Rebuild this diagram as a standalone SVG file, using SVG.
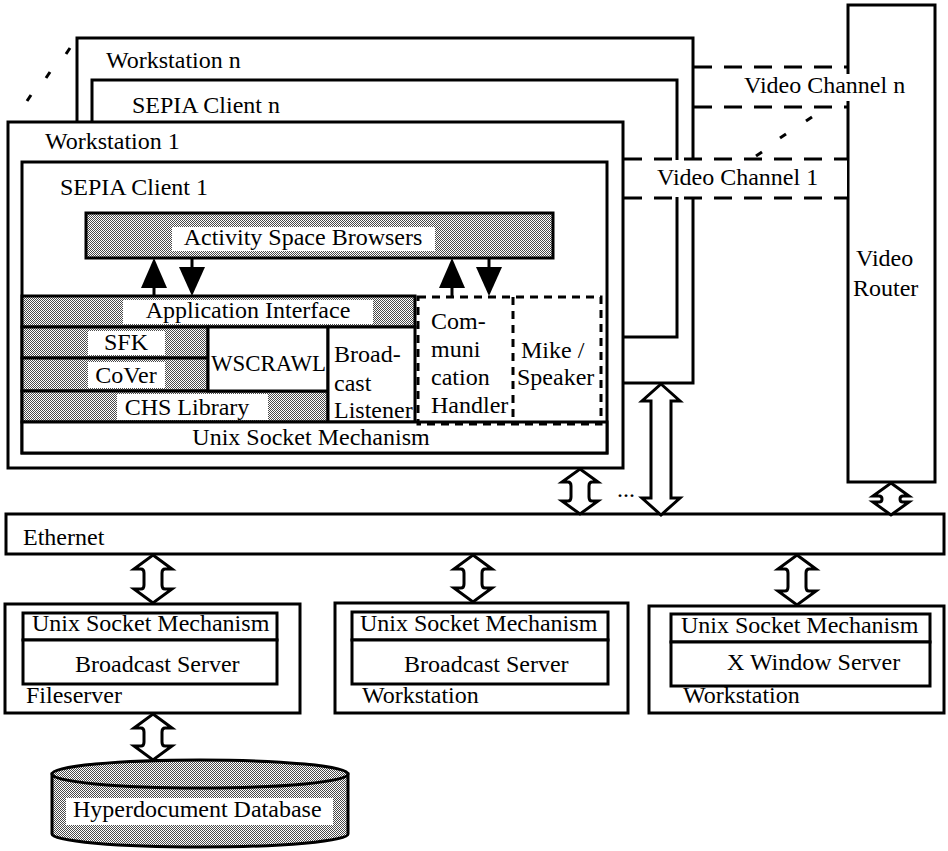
<svg xmlns="http://www.w3.org/2000/svg" width="948" height="851" viewBox="0 0 948 851">
<defs>
<pattern id="dither" width="2" height="2" patternUnits="userSpaceOnUse">
<rect width="2" height="2" fill="#fff"/>
<rect width="1" height="1" fill="#4a4a4a"/>
<rect x="1" y="1" width="1" height="1" fill="#4a4a4a"/>
</pattern>
</defs>
<style>
.box{fill:#fff;stroke:#000;stroke-width:3}
.pat{fill:url(#dither);stroke:#000;stroke-width:3}
.bg{fill:#fff;stroke:none}
.t{font-family:"Liberation Serif","Times New Roman",serif;font-size:24px;fill:#000}
.m{text-anchor:middle}
.dash{fill:none;stroke:#000;stroke-width:3;stroke-dasharray:18 12}
.sdash{fill:none;stroke:#000;stroke-width:3;stroke-dasharray:8 6}
.tick{stroke:#000;stroke-width:3;stroke-linecap:butt}
.dbl{fill:#fff;stroke:#000;stroke-width:3;stroke-linejoin:miter}
.solid{fill:#000;stroke:none}
.stem{stroke:#000;stroke-width:3}
</style>

<g id="workstation-n">
<rect class="box" x="77" y="38" width="616" height="345"/>
<text class="t" x="106" y="68">Workstation n</text>
</g>
<g id="sepia-client-n">
<rect class="box" x="92" y="80" width="585" height="257"/>
<text class="t" x="132" y="113">SEPIA Client n</text>
</g>
<g id="stack-dots">
<line class="tick" x1="70" y1="48" x2="66" y2="54"/>
<line class="tick" x1="50" y1="72" x2="46" y2="78"/>
<line class="tick" x1="31" y1="95" x2="27" y2="101"/>
</g>

<g id="video-router">
<rect class="box" x="848" y="5" width="87" height="477"/>
<text class="t" x="856" y="266">Video</text>
<text class="t" x="853" y="296">Router</text>
</g>

<g id="video-channels">
<line class="dash" x1="694" y1="67" x2="848" y2="67"/>
<line class="dash" x1="694" y1="107" x2="848" y2="107"/>
<rect class="bg" x="741" y="74" width="167" height="27"/>
<text class="t" x="744" y="93">Video Channel n</text>
<rect class="bg" x="625" y="160" width="222" height="37"/>
<line class="dash" x1="624" y1="159" x2="848" y2="159"/>
<line class="dash" x1="624" y1="198" x2="848" y2="198"/>
<text class="t" x="657" y="185">Video Channel 1</text>
<line class="tick" x1="812" y1="117" x2="806" y2="121"/>
<line class="tick" x1="786" y1="134" x2="780" y2="138"/>
<line class="tick" x1="762" y1="152" x2="756" y2="156"/>
</g>

<g id="workstation-1">
<rect class="box" x="8" y="122" width="615" height="346"/>
<text class="t" x="45" y="149">Workstation 1</text>
</g>
<g id="sepia-client-1">
<rect class="box" x="22" y="162" width="585" height="291"/>
<text class="t" x="60" y="195">SEPIA Client 1</text>
</g>

<g id="activity-space-browsers">
<rect class="pat" x="86" y="213" width="467" height="45"/>
<rect class="bg" x="172" y="227" width="263" height="24"/>
<text class="t m" x="303" y="245">Activity Space Browsers</text>
</g>

<g id="application-interface">
<rect class="pat" x="22" y="296" width="393" height="31"/>
<rect class="bg" x="123" y="300" width="250" height="24"/>
<text class="t m" x="248" y="318">Application Interface</text>
</g>
<g id="sfk">
<rect class="pat" x="22" y="327" width="186" height="31"/>
<rect class="bg" x="88" y="331" width="77" height="24"/>
<text class="t m" x="126" y="350">SFK</text>
</g>
<g id="cover">
<rect class="pat" x="22" y="358" width="186" height="33"/>
<rect class="bg" x="88" y="362" width="77" height="26"/>
<text class="t m" x="126" y="383">CoVer</text>
</g>
<g id="chs-library">
<rect class="pat" x="22" y="391" width="306" height="31"/>
<rect class="bg" x="117" y="394" width="151" height="26"/>
<text class="t m" x="187" y="415">CHS Library</text>
</g>
<g id="wscrawl">
<rect class="box" x="208" y="327" width="120" height="64"/>
<text class="t" x="211" y="371" textLength="115" lengthAdjust="spacingAndGlyphs">WSCRAWL</text>
</g>
<g id="broadcast-listener">
<rect class="box" x="328" y="327" width="87" height="95"/>
<text class="t" x="334" y="362">Broad-</text>
<text class="t" x="334" y="391">cast</text>
<text class="t" x="334" y="418">Listener</text>
</g>
<g id="unix-socket-client">
<rect class="box" x="22" y="422" width="585" height="31"/>
<text class="t m" x="311" y="445">Unix Socket Mechanism</text>
</g>
<g id="communication-handler">
<rect class="sdash" x="418" y="297" width="183" height="127"/>
<line class="sdash" x1="513" y1="297" x2="513" y2="424"/>
<text class="t" x="431" y="329">Com-</text>
<text class="t" x="431" y="357">muni</text>
<text class="t" x="431" y="385">cation</text>
<text class="t" x="431" y="413">Handler</text>
</g>
<g id="mike-speaker">
<text class="t" x="521" y="358">Mike /</text>
<text class="t" x="517" y="385">Speaker</text>
</g>

<g id="ethernet">
<rect class="box" x="6" y="514" width="938" height="40"/>
<text class="t" x="23" y="545">Ethernet</text>
</g>

<g id="fileserver">
<rect class="box" x="5" y="604" width="295" height="109"/>
<rect class="box" x="23" y="613" width="254" height="27"/>
<rect class="box" x="23" y="640" width="254" height="44"/>
<text class="t" x="32" y="631">Unix Socket Mechanism</text>
<text class="t" x="75" y="672">Broadcast Server</text>
<text class="t" x="26" y="703">Fileserver</text>
</g>
<g id="workstation-broadcast">
<rect class="box" x="335" y="603" width="293" height="110"/>
<rect class="box" x="352" y="612" width="256" height="28"/>
<rect class="box" x="352" y="640" width="256" height="44"/>
<text class="t" x="360" y="631">Unix Socket Mechanism</text>
<text class="t" x="404" y="672">Broadcast Server</text>
<text class="t" x="362" y="703">Workstation</text>
</g>
<g id="workstation-xwindow">
<rect class="box" x="649" y="606" width="295" height="107"/>
<rect class="box" x="671" y="614" width="259" height="28"/>
<rect class="box" x="671" y="642" width="259" height="44"/>
<text class="t" x="681" y="633">Unix Socket Mechanism</text>
<text class="t" x="727" y="670">X Window Server</text>
<text class="t" x="683" y="703">Workstation</text>
</g>

<g id="hyperdocument-database">
<path class="pat" d="M52,774 L52,834 A148,13 0 0 0 348,834 L348,774 Z"/>
<ellipse class="pat" cx="200" cy="774" rx="148" ry="14"/>
<rect class="bg" x="66" y="798" width="267" height="27"/>
<text class="t" x="73" y="817">Hyperdocument Database</text>
</g>

<g id="connectors">
<line class="stem" x1="154" y1="286" x2="154" y2="296"/>
<polygon class="solid" points="154,258 167,288 141,288"/>
<line class="stem" x1="192" y1="258" x2="192" y2="268"/>
<polygon class="solid" points="179,267 205,267 192,296"/>
<line class="stem" x1="452" y1="286" x2="452" y2="297"/>
<polygon class="solid" points="452,258 465,288 439,288"/>
<line class="stem" x1="489" y1="258" x2="489" y2="268"/>
<polygon class="solid" points="476,267 502,267 489,296"/>

<path class="dbl" d="M580,469 L598,482 L592,482 Q589,482 589,486 L589,497 Q589,501 592,501 L598,501 L580,514 L562,501 L568,501 Q571,501 571,497 L571,486 Q571,482 568,482 L562,482 Z"/>
<path class="dbl" d="M661,384 L680,401 L671,401 L671,498 L680,498 L661,515 L642,498 L651,498 L651,401 L642,401 Z"/>
<path class="dbl" d="M891,483 L909,496 L903,496 Q900,496 900,499 L900,499 Q900,502 903,502 L909,502 L891,515 L873,502 L879,502 Q882,502 882,499 L882,499 Q882,496 879,496 L873,496 Z"/>
<path class="dbl" d="M153,555 L172,569 L165,569 Q162,569 162,573 L162,585 Q162,589 165,589 L172,589 L153,603 L134,589 L141,589 Q144,589 144,585 L144,573 Q144,569 141,569 L134,569 Z"/>
<path class="dbl" d="M473,555 L492,569 L485,569 Q482,569 482,573 L482,584 Q482,588 485,588 L492,588 L473,602 L454,588 L461,588 Q464,588 464,584 L464,573 Q464,569 461,569 L454,569 Z"/>
<path class="dbl" d="M797,555 L816,569 L809,569 Q806,569 806,573 L806,587 Q806,591 809,591 L816,591 L797,605 L778,591 L785,591 Q788,591 788,587 L788,573 Q788,569 785,569 L778,569 Z"/>
<path class="dbl" d="M153,714 L172,728 L165,728 Q162,728 162,732 L162,742 Q162,746 165,746 L172,746 L153,760 L134,746 L141,746 Q144,746 144,742 L144,732 Q144,728 141,728 L134,728 Z"/>
<text class="t" x="617" y="497">...</text>
</g>
</svg>
